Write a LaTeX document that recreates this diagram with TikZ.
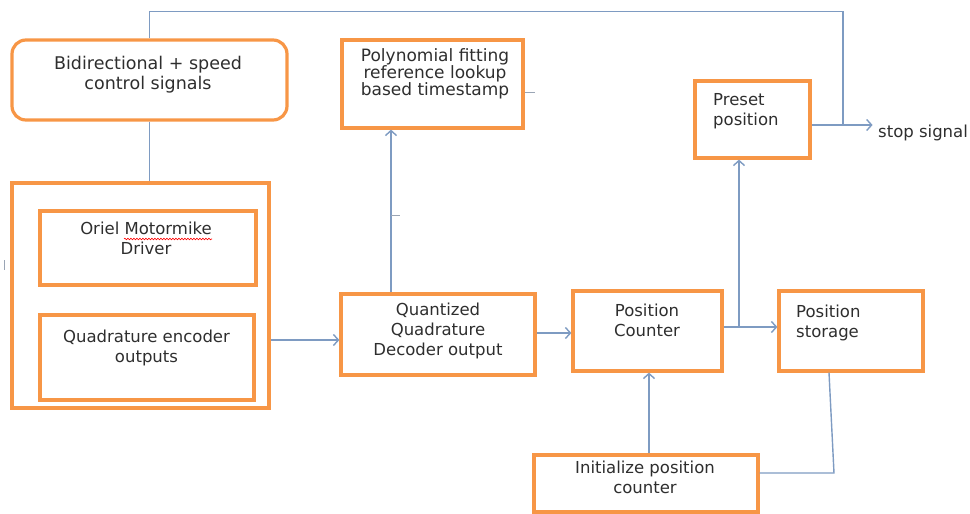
\documentclass[tikz,border=0pt]{standalone}
\usepackage{fontspec}
\setmainfont{DejaVu Sans}
\usetikzlibrary{arrows.meta,decorations.pathmorphing}
\definecolor{boxorange}{HTML}{F79646}
\definecolor{linkblue}{HTML}{7E9BC2}
\definecolor{tickgray}{HTML}{9AA5B5}
\definecolor{textgray}{HTML}{2E2E2E}
\begin{document}
\begin{tikzpicture}[x=1pt,y=-1pt,
  obox/.style={draw=boxorange, line width=3.2pt, inner sep=0pt},
  txt/.style={font=\fontsize{16.5}{20}\selectfont, text=textgray, inner sep=0pt, align=center},
  bigtxt/.style={font=\fontsize{17.5}{20}\selectfont, text=textgray, inner sep=0pt, align=center},
  smalltxt/.style={font=\fontsize{17}{17}\selectfont, text=textgray, inner sep=0pt, align=center},
  conn/.style={draw=linkblue, line width=1.4pt},
  arr/.style={conn, -{Straight Barb[length=5pt,width=11pt]}},
  stray/.style={draw=tickgray, line width=1pt}]
\useasboundingbox (0,0) rectangle (970,514);

% boxes
\node[obox, minimum width=275pt, minimum height=80pt, rounded corners=14pt] (bid) at (149.5,80) {};
\node[obox, minimum width=257pt, minimum height=225pt] (outer) at (140.5,295.5) {};
\node[obox, minimum width=216pt, minimum height=74pt] (oriel) at (148,248) {};
\node[obox, minimum width=214pt, minimum height=85pt] (quad) at (147,357.5) {};
\node[obox, minimum width=194pt, minimum height=81pt] (qdec) at (438,334.5) {};
\node[obox, minimum width=181pt, minimum height=88pt] (poly) at (432.5,84) {};
\node[obox, minimum width=149pt, minimum height=80pt] (pc) at (647.5,331) {};
\node[obox, minimum width=144pt, minimum height=80pt] (stor) at (851,331) {};
\node[obox, minimum width=115pt, minimum height=77pt] (preset) at (752.5,119.5) {};
\node[obox, minimum width=224pt, minimum height=57pt] (init) at (646,483.5) {};

% texts
\node[bigtxt] (bidtxt) at (148,74.5) {Bidirectional + speed\\control signals};
\node[txt] (orieltxt) at (146,238.8) {Oriel Motormike\\Driver};
\node[txt] (quadtxt) at (146.5,348) {Quadrature encoder\\outputs};
\node[txt] (qdectxt) at (438,330.7) {Quantized\\Quadrature\\Decoder output};
\node[smalltxt] (polytxt) at (435,73.9) {Polynomial fitting\\reference lookup\\based timestamp};
\node[txt] (pctxt) at (647,320.7) {Position\\Counter};
\node[txt, align=left, anchor=west] (stortxt) at (796,322.7) {Position\\storage};
\node[txt, align=left, anchor=west] (prtxt) at (713,111) {Preset\\position};
\node[txt] (inittxt) at (645,477.8) {Initialize position\\counter};
\node[txt, anchor=base west] (stop) at (878,137) {stop signal};

% spell-check squiggle
\draw[red, line width=0.6pt, decorate, decoration={snake, segment length=3pt, amplitude=0.8pt}] (124,239) -- (212,239);

% connectors
\coordinate (jt) at (843,125);
\coordinate (br) at (739,327);
\draw[conn] (bid.north) -- ++(0,-27) -| (jt);
\draw[conn] (bid.south) -- (bid.south |- outer.north);
\draw[arr] (outer.east |- 0,340) -- (qdec.west |- 0,340);
\draw[arr] (qdec.north -| 391,0) -- (poly.south -| 391,0);
\draw[arr] (qdec.east |- 0,333) -- (pc.west |- 0,333);
\draw[arr] (pc.east |- br) -- (stor.west |- br);
\draw[arr] (br) -- (preset.south -| br);
\draw[arr] (preset.east |- jt) -- ++(61,0) coordinate (stopend);
\draw[arr] (init.north -| 649,0) -- (pc.south -| 649,0);
\draw[conn] (stor.south -| 829,0) -- (834,473) -- (init.east |- 0,473);

% stray marks
\draw[stray] (391,215) -- (400,215);
\draw[stray] (poly.east |- 0,92) -- ++(10,0);
\draw[stray] (4,260) -- (4,270);
\end{tikzpicture}
\end{document}
